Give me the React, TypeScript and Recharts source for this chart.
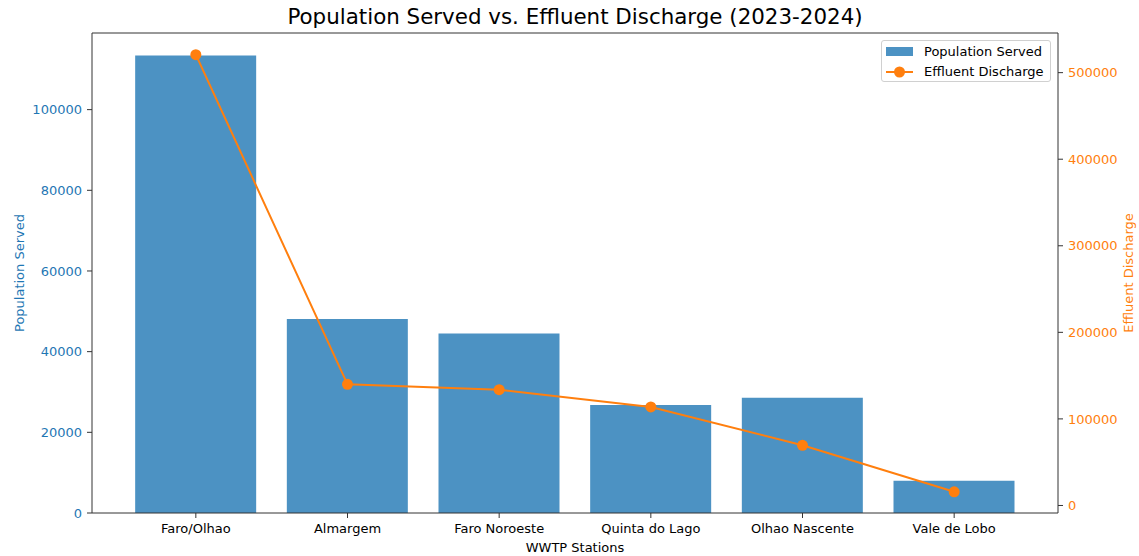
import React from 'react';
import { ComposedChart, Bar, Line, XAxis, YAxis, Legend, Label, ReferenceLine } from 'recharts';

const stations = ['Faro/Olhao', 'Almargem', 'Faro Noroeste', 'Quinta do Lago', 'Olhao Nascente', 'Vale de Lobo'];
const populationServed = [113400, 48100, 44500, 26800, 28600, 8000];
const effluentDischarge = [520800, 139900, 133700, 113800, 69500, 15800];
const leftTicks = [0, 20000, 40000, 60000, 80000, 100000];
const rightTicks = [0, 100000, 200000, 300000, 400000, 500000];

const data = stations.map((s, i) => ({ station: s, population: populationServed[i], effluent: effluentDischarge[i] }));

const FONT = '"DejaVu Sans", sans-serif';
const BLUE = '#1f77b4';
const ORANGE = '#ff7f0e';
const AXIS = '#333333';
const LEFT_MAX = 119000;

const LegendBox = () => (
  <div
    style={{
      width: 170,
      height: 42,
      border: '1px solid #d0d0d0',
      borderRadius: 3,
      background: 'rgba(255,255,255,0.8)',
      fontFamily: FONT,
      fontSize: 13,
      color: '#000',
      boxSizing: 'border-box',
      position: 'relative',
    }}
  >
    <div style={{ position: 'absolute', left: 4, top: 6, width: 27, height: 9, background: BLUE, opacity: 0.8 }} />
    <div style={{ position: 'absolute', left: 42, top: 2, lineHeight: '17px', whiteSpace: 'nowrap' }}>Population Served</div>
    <svg style={{ position: 'absolute', left: 4, top: 25 }} width={28} height={12}>
      <line x1={0} y1={6} x2={27} y2={6} stroke={ORANGE} strokeWidth={2} />
      <circle cx={13.5} cy={6} r={5.5} fill={ORANGE} />
    </svg>
    <div style={{ position: 'absolute', left: 42, top: 22, lineHeight: '17px', whiteSpace: 'nowrap' }}>Effluent Discharge</div>
  </div>
);

export default function App() {
  return (
    <div style={{ position: 'absolute', left: 0, top: 0, width: 1139, height: 556, background: '#fff', fontFamily: FONT }}>
      <div
        style={{
          position: 'absolute',
          left: 92,
          width: 966,
          top: 3,
          textAlign: 'center',
          fontSize: 21.4,
          lineHeight: '28px',
          color: '#000',
          fontFamily: FONT,
          whiteSpace: 'nowrap',
        }}
      >
        Population Served vs. Effluent Discharge (2023-2024)
      </div>
      <ComposedChart
        width={1139}
        height={556}
        data={data}
        margin={{ top: 33, right: 0, bottom: 0, left: 0 }}
        barCategoryGap="10%"
        style={{ fontFamily: FONT }}
      >
        <XAxis
          dataKey="station"
          xAxisId="main"
          height={43}
          padding={{ left: 28, right: 28 }}
          tickLine={{ stroke: AXIS }}
          axisLine={{ stroke: AXIS, strokeWidth: 1 }}
          tickSize={5}
          tickMargin={6}
          tick={{ fill: '#000', fontSize: 13, fontFamily: FONT }}
          interval={0}
        >
          <Label value="WWTP Stations" position="insideBottom" offset={4} style={{ fill: '#000', fontSize: 13, fontFamily: FONT }} />
        </XAxis>
        <YAxis
          yAxisId="left"
          orientation="left"
          width={92}
          type="number"
          domain={[0, LEFT_MAX]}
          ticks={leftTicks}
          allowDataOverflow
          tickSize={5}
          tickMargin={5}
          tickLine={{ stroke: AXIS }}
          axisLine={{ stroke: AXIS, strokeWidth: 1 }}
          tick={{ fill: BLUE, fontSize: 13, fontFamily: FONT }}
        >
          <Label
            value="Population Served"
            angle={-90}
            position="center"
            dx={-27}
            style={{ fill: BLUE, fontSize: 13, fontFamily: FONT, textAnchor: 'middle' }}
          />
        </YAxis>
        <YAxis
          yAxisId="right"
          orientation="right"
          width={81}
          type="number"
          domain={[-8700, 545800]}
          ticks={rightTicks}
          allowDataOverflow
          tickSize={5}
          tickMargin={5}
          tickLine={{ stroke: AXIS }}
          axisLine={{ stroke: AXIS, strokeWidth: 1 }}
          tick={{ fill: ORANGE, fontSize: 13, fontFamily: FONT }}
        >
          <Label
            value="Effluent Discharge"
            angle={-90}
            position="center"
            dx={29.5}
            style={{ fill: ORANGE, fontSize: 13, fontFamily: FONT, textAnchor: 'middle' }}
          />
        </YAxis>
        <ReferenceLine yAxisId="left" xAxisId="main" y={LEFT_MAX} stroke={AXIS} strokeWidth={1} ifOverflow="extendDomain" />
        <Legend
          layout="vertical"
          align="center"
          verticalAlign="middle"
          wrapperStyle={{ position: 'absolute', left: 881, top: 40, width: 170, height: 42 }}
          content={() => <LegendBox />}
        />
        <Bar
          dataKey="population"
          name="Population Served"
          xAxisId="main"
          yAxisId="left"
          fill={BLUE}
          fillOpacity={0.8}
          isAnimationActive={false}
        />
        <Line
          dataKey="effluent"
          name="Effluent Discharge"
          xAxisId="main"
          yAxisId="right"
          stroke={ORANGE}
          strokeWidth={2}
          dot={{ r: 5.5, fill: ORANGE, stroke: 'none' }}
          activeDot={false}
          isAnimationActive={false}
        />
      </ComposedChart>
    </div>
  );
}
